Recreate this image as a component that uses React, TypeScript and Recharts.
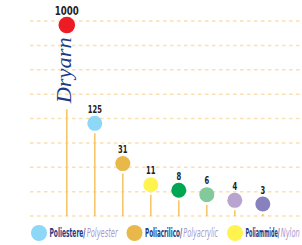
import { ComposedChart, Bar, XAxis, YAxis, CartesianGrid } from "recharts";

// fibres compared, in the order shown
const names = ["Dryarn", "Poliestere", "Poliacrilico", "Poliammide", "Lana", "Cotone", "Seta", "Viscosa"];
const values = [1000, 125, 31, 11, 8, 6, 4, 3];
const colors = ["#ED1C24", "#8DD7F7", "#E8B84A", "#FFF34F", "#00A651", "#82CA9C", "#B9A3CF", "#8781BD"];

// legend (only the first three fit in the frame)
const legendIt = ["Poliestere/", "Poliacrilico/", "Poliammide/"];
const legendEn = ["Polyester", "Polyacrylic", "Nylon"];
const legendColors = ["#8DD7F7", "#E8B84A", "#FFF34F"];

const gridLines = 8;

const data = names.map((name, i) => ({ name, value: values[i], color: colors[i] }));

const NAVY = "#1E3C86";
const LILAC = "#A99BD0";
const STEM = "#F8C66A";
const COND = "'DejaVu Sans Condensed', 'DejaVu Sans', sans-serif";

// the infographic is drawn on a compressed scale, roughly v^0.28
function powScale(exp: number): any {
  let dom = [0, 1];
  let rng = [0, 1];
  const t = (v: number) => Math.pow(Math.max(v, 0), exp);
  const s: any = (v: number) =>
    rng[0] + ((t(v) - t(dom[0])) / (t(dom[1]) - t(dom[0]))) * (rng[1] - rng[0]);
  s.domain = (d?: any[]) => (d ? ((dom = [+d[0], +d[1]]), s) : dom.slice());
  s.range = (r?: any[]) => (r ? ((rng = [+r[0], +r[1]]), s) : rng.slice());
  s.copy = () => powScale(exp).domain(dom).range(rng);
  s.invert = (y: number) => {
    const k = (y - rng[0]) / (rng[1] - rng[0]);
    return Math.pow(t(dom[0]) + k * (t(dom[1]) - t(dom[0])), 1 / exp);
  };
  s.ticks = () => dom.slice();
  s.nice = () => s;
  s.clamp = () => s;
  return s;
}

const Lollipop = (p: any) => {
  const { x, y, width, height, index, payload } = p;
  const cx = x + width / 2;
  const base = y + height;
  const first = index === 0;
  const r = first ? 8.3 : 7.5;
  const label = String(payload.value);
  const stemTop = first ? y + r + 76 : y + r + 2.5;
  return (
    <g>
      <line x1={cx} x2={cx} y1={stemTop} y2={base} stroke={STEM} strokeWidth={1.6} />
      <circle cx={cx} cy={y} r={r} fill={payload.color} />
      <text
        x={cx}
        y={y - r - (first ? 2 : 3)}
        textAnchor="middle"
        fontFamily={COND}
        fontWeight="bold"
        fontSize={first ? 13 : 10.5}
        fill="#222"
        textLength={label.length * (first ? 6 : 4.7)}
        lengthAdjust="spacingAndGlyphs"
      >
        {label}
      </text>
      {first && (
        <text
          transform={`translate(${cx + 4}, ${y + r + 37}) rotate(-90)`}
          textAnchor="middle"
          fontFamily="'Liberation Serif', 'DejaVu Serif', serif"
          fontStyle="italic"
          fontSize={21}
          fill={NAVY}
          textLength={66}
          lengthAdjust="spacingAndGlyphs"
        >
          {payload.name}
        </text>
      )}
    </g>
  );
};

// legend layout: circle centre, name width, english width
const legendCx = [39, 134.5, 235];
const legendW = [36, 37, 34];
const legendEnW = [31, 35, 19];

const evenRows = ({ offset }: any) =>
  Array.from({ length: gridLines + 1 }, (_, k) => offset.top + (k * offset.height) / gridLines);

export default function App() {
  return (
    <div style={{ position: "relative", width: 302, height: 245, background: "#fff" }}>
      <style>{"body{margin:0}"}</style>
      <ComposedChart width={302} height={245} data={data} margin={{ top: 21, right: 0, bottom: 29, left: 30 }}>
        <CartesianGrid
          vertical={false}
          horizontalCoordinatesGenerator={evenRows}
          stroke="#FCE0B0"
          strokeWidth={1.5}
          strokeDasharray="3.5 3.5"
        />
        <XAxis dataKey="name" hide padding={{ left: 23, right: 25 }} />
        <YAxis type="number" hide scale={powScale(0.28)} domain={[0.96, 1066]} />
        <Bar dataKey="value" shape={Lollipop} isAnimationActive={false} />
      </ComposedChart>
      <svg width={302} height={22} style={{ position: "absolute", left: 0, top: 222 }}>
        {legendIt.map((it, i) => {
          const cx = legendCx[i];
          return (
            <g key={it}>
              <circle cx={cx} cy={11} r={8} fill={legendColors[i]} />
              <text
                x={cx + 10.5}
                y={15}
                fontFamily={COND}
                fontWeight="bold"
                fontSize={11.5}
                fill={NAVY}
                textLength={legendW[i]}
                lengthAdjust="spacingAndGlyphs"
              >
                {it}
              </text>
              <text
                x={cx + 10.5 + legendW[i] + 1.2}
                y={15}
                fontFamily={COND}
                fontStyle="italic"
                fontSize={11.5}
                fill={LILAC}
                textLength={legendEnW[i]}
                lengthAdjust="spacingAndGlyphs"
              >
                {legendEn[i]}
              </text>
            </g>
          );
        })}
      </svg>
    </div>
  );
}
